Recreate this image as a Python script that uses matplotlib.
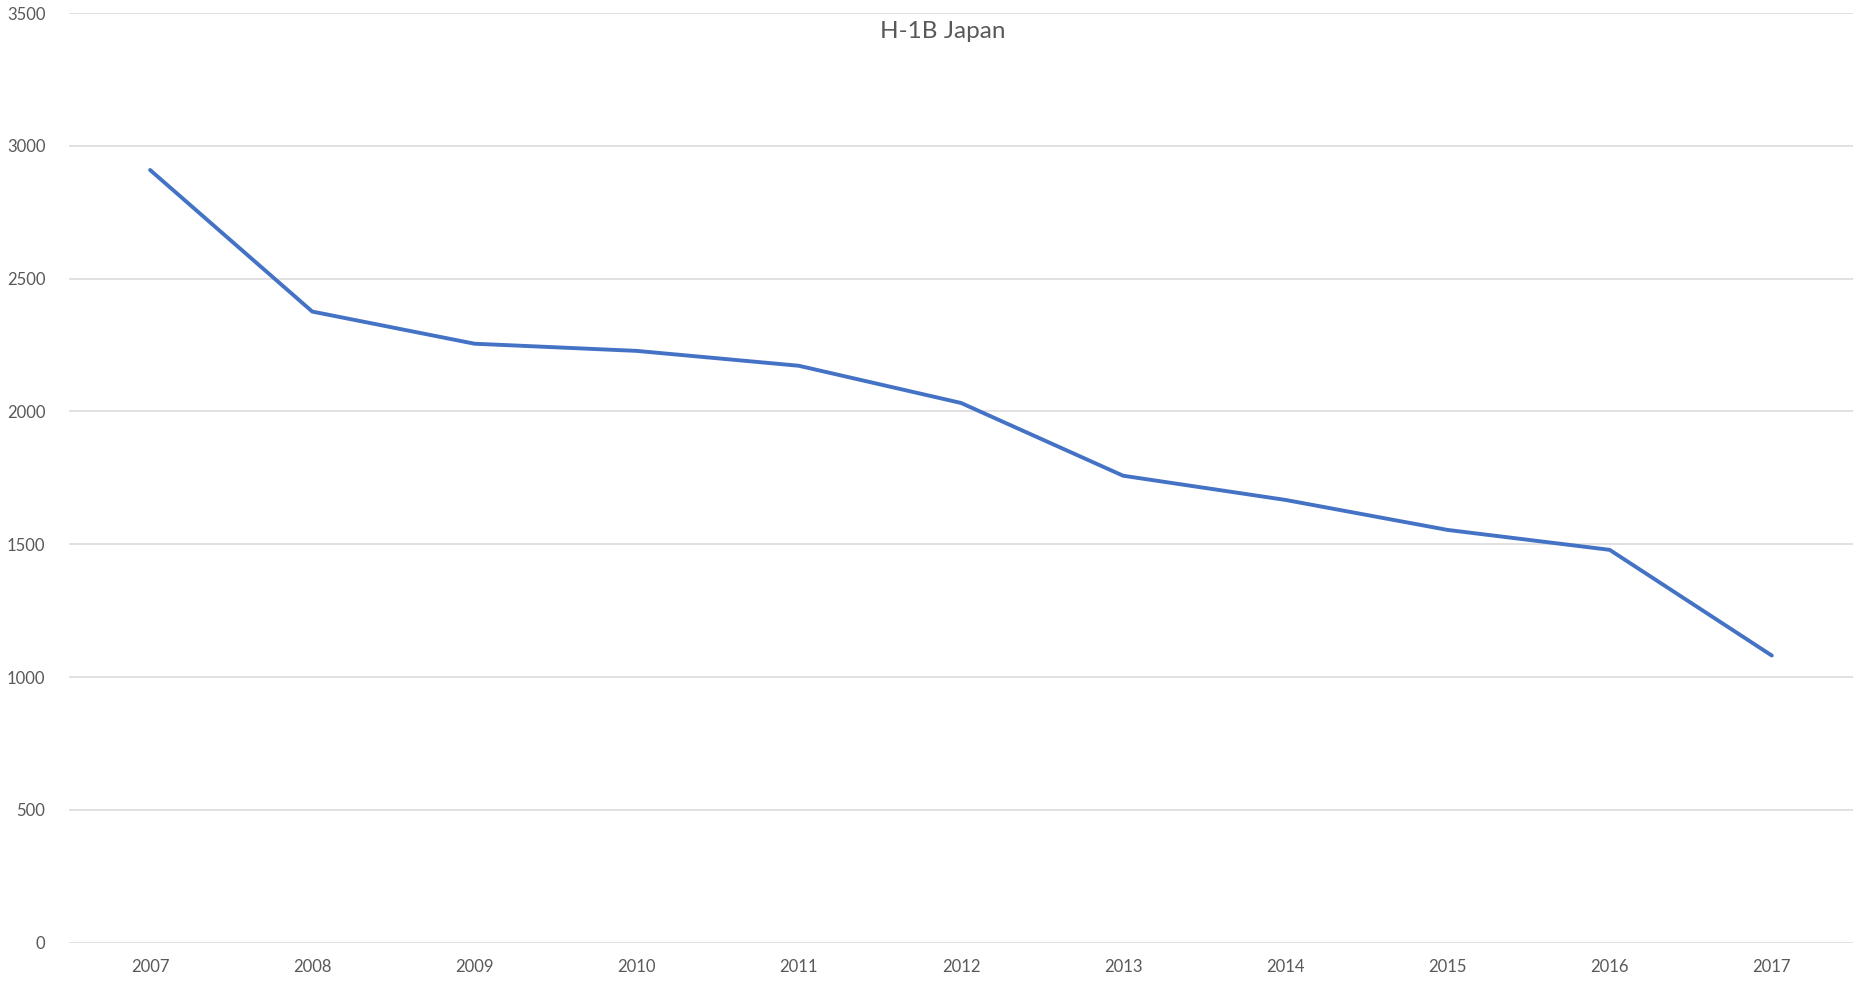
import matplotlib
matplotlib.use('Agg')
import matplotlib.pyplot as plt

# 数据
years = ['2007', '2008', '2009', '2010', '2011', '2012',
         '2013', '2014', '2015', '2016', '2017']
h1b_japan = [2909, 2376, 2255, 2228, 2172, 2032, 1758, 1667, 1554, 1479, 1081]

y_ticks = [0, 500, 1000, 1500, 2000, 2500, 3000, 3500]

text_color = '#595959'
grid_color = '#d9d9d9'
line_color = '#4472C4'

plt.rcParams['font.family'] = ['Lato', 'DejaVu Sans']

fig = plt.figure(figsize=(18.72, 9.94), dpi=100)
ax = fig.add_axes([0.03686, 0.05161, 0.95294, 0.93531])

x = range(len(years))
ax.plot(x, h1b_japan, color=line_color, linewidth=2.8, solid_capstyle='round', zorder=3)

ax.set_xlim(-0.5, len(years) - 0.5)
ax.set_ylim(0, 3500)
ax.set_yticks(y_ticks)
ax.set_xticks(list(x))
ax.set_xticklabels(years)

ax.grid(axis='y', color=grid_color, linewidth=1.1)
ax.set_axisbelow(True)
for s in ax.spines.values():
    s.set_visible(False)
ax.tick_params(length=0, labelsize=12, colors=text_color)
ax.tick_params(axis='y', pad=17)
ax.tick_params(axis='x', pad=12)

# 标题
fig.text(943 / 1872, 1 - 31 / 994, 'H-1B Japan', ha='center', va='center',
         fontsize=17.5, color=text_color)

fig.savefig('out.png', dpi=100, facecolor='white')
